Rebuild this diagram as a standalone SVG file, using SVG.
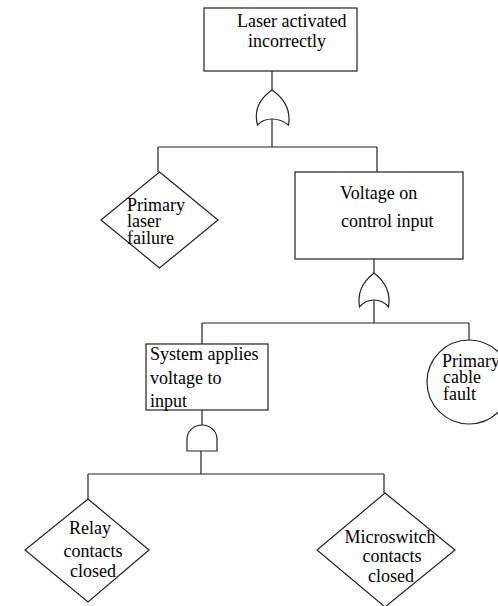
<svg xmlns="http://www.w3.org/2000/svg" width="498" height="606" viewBox="0 0 498 606">
<style>
.s{fill:#fff;stroke:#222;stroke-width:1.2}
.c{fill:none;stroke:#222;stroke-width:1.2}
text{font-family:"Liberation Serif","Times New Roman",serif;font-size:18px;fill:#000}
</style>
<rect width="498" height="606" fill="#fff"/>
<g id="connectors">
<path class="c" d="M272,71V90M272,119V147M158,147H377M158,147V172M377,147V172"/>
<path class="c" d="M374,259V273M374,300V323M202,323H469M202,323V344M469,323V340"/>
<path class="c" d="M202,410V425M201,451V474M88,474H384M88,474V499M384,474V493"/>
</g>
<g id="top-event">
<rect class="s" x="204" y="8" width="153" height="63"/>
<text x="237" y="27">Laser activated</text>
<text x="248" y="47">incorrectly</text>
</g>
<g id="or-gate-1">
<path class="s" d="M257.5,125 Q263,119 272,119 Q281,119 288.5,125 Q292,104 272,90 Q252,104 257.5,125 Z"/>
</g>
<g id="primary-laser-failure">
<polygon class="s" points="159.5,172 218,220 159.5,268 101,220"/>
<text x="127" y="211">Primary</text>
<text x="127" y="227">laser</text>
<text x="127" y="244">failure</text>
</g>
<g id="voltage-on-control-input">
<rect class="s" x="295" y="172" width="168" height="87"/>
<text x="340" y="199">Voltage on</text>
<text x="341" y="227">control input</text>
</g>
<g id="or-gate-2">
<path class="s" d="M359.5,307 Q365,300 374,300 Q383,300 388.5,307 Q392,287 374,273 Q356,287 359.5,307 Z"/>
</g>
<g id="system-applies-voltage">
<rect class="s" x="146" y="344" width="122" height="66"/>
<text x="150" y="360">System applies</text>
<text x="150" y="384">voltage to</text>
<text x="150" y="407">input</text>
</g>
<g id="primary-cable-fault">
<circle class="s" cx="469" cy="382" r="42"/>
<text x="442" y="367">Primary</text>
<text x="443" y="383">cable</text>
<text x="443" y="400">fault</text>
</g>
<g id="and-gate">
<path class="s" d="M187,451 V439 A15,14 0 0 1 217,439 V451 Z"/>
</g>
<g id="relay-contacts-closed">
<polygon class="s" points="88,499 149,550 88,602 25,550"/>
<text x="90" y="534" text-anchor="middle">Relay</text>
<text x="93" y="557" text-anchor="middle">contacts</text>
<text x="93" y="577" text-anchor="middle">closed</text>
</g>
<g id="microswitch-contacts-closed">
<polygon class="s" points="385,493 455,550 385,607 317,550"/>
<text x="390" y="543" text-anchor="middle">Microswitch</text>
<text x="392" y="562" text-anchor="middle">contacts</text>
<text x="391" y="582" text-anchor="middle">closed</text>
</g>
</svg>
